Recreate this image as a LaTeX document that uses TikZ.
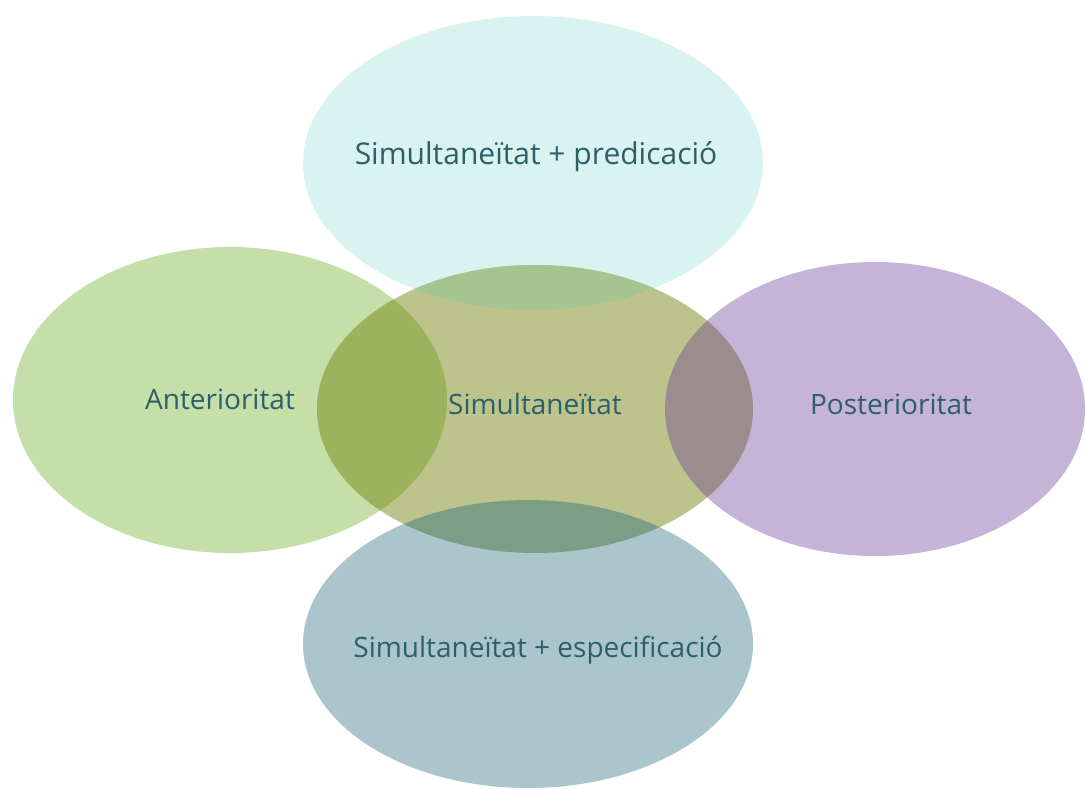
\documentclass[tikz,border=0pt]{standalone}
\usepackage{fontspec}
\setmainfont{Open Sans}

\definecolor{topfill}{HTML}{D9F4F0}
\definecolor{leftfill}{HTML}{C4DFA7}
\definecolor{midfill}{HTML}{BCC48C}
\definecolor{rightfill}{HTML}{C5B4D8}
\definecolor{botfill}{HTML}{ABC5CD}
\definecolor{topmid}{HTML}{A4C492}
\definecolor{leftmid}{HTML}{9DB25C}
\definecolor{rightmid}{HTML}{9B8C8D}
\definecolor{botmid}{HTML}{7C9E87}
\definecolor{labeltext}{HTML}{2D5F6B}

\tikzset{
  eltop/.style={insert path={(533,163) ellipse [x radius=230, y radius=147]}},
  elleft/.style={insert path={(230,400) ellipse [x radius=217, y radius=153]}},
  elmid/.style={insert path={(535,409) ellipse [x radius=218, y radius=144]}},
  elright/.style={insert path={(875,409) ellipse [x radius=210, y radius=147]}},
  elbot/.style={insert path={(528,644) ellipse [x radius=225, y radius=144]}},
  lbl/.style={text=labeltext, font=\fontsize{14}{17}\selectfont, inner sep=0pt}
}

\begin{document}
\begin{tikzpicture}[x=0.5pt,y=-0.5pt]
  \useasboundingbox (0,0) rectangle (1086,790);
  % outer ellipses
  \fill[topfill] [eltop];
  \fill[leftfill] [elleft];
  \fill[rightfill] [elright];
  \fill[botfill] [elbot];
  \fill[midfill] [elmid];
  % overlaps with the middle one
  \begin{scope}
    \clip [elmid];
    \fill[topmid] [eltop];
    \fill[leftmid] [elleft];
    \fill[rightmid] [elright];
    \fill[botmid] [elbot];
  \end{scope}
  % labels
  \node[lbl, font=\fontsize{15}{18}\selectfont] (pred) at (536,157) {Simultaneïtat + predicació};
  \node[lbl] (ante) at (220,399) {Anterioritat};
  \node[lbl] (simu) at (535,404) {Simultaneïtat};
  \node[lbl] (post) at (891,404) {Posterioritat};
  \node[lbl] (espe) at (538,650) {Simultaneïtat + especificació};
\end{tikzpicture}
\end{document}
